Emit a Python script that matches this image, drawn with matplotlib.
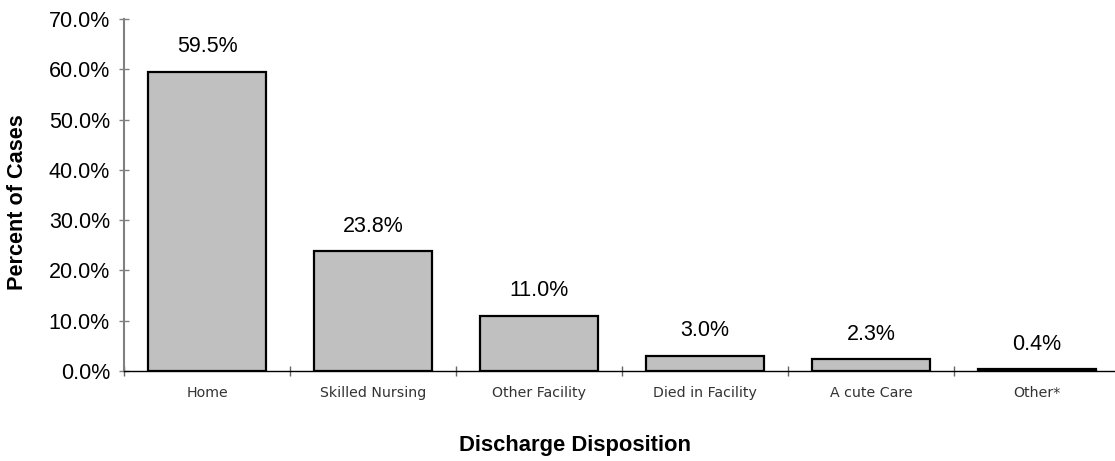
import matplotlib
matplotlib.use("Agg")
import matplotlib.pyplot as plt
from matplotlib.ticker import FuncFormatter, MultipleLocator, FixedLocator

categories = ["Home", "Skilled Nursing", "Other Facility", "Died in Facility", "A cute Care", "Other*"]
values = [59.5, 23.8, 11.0, 3.0, 2.3, 0.4]
value_labels = ["59.5%", "23.8%", "11.0%", "3.0%", "2.3%", "0.4%"]

plt.rcParams['font.family'] = ['Liberation Sans', 'DejaVu Sans']

W, H = 1115, 461
fig = plt.figure(figsize=(W / 100, H / 100), dpi=100)
left, right, top, bottom = 124, 1120, 19, 371
ax = fig.add_axes([left / W, 1 - bottom / H, (right - left) / W, (bottom - top) / H])

n = len(categories)
x = list(range(n))
ax.bar(x, values, width=0.71, color="#C0C0C0", edgecolor="black", linewidth=1.6, zorder=3)

for xi, v, lab in zip(x, values, value_labels):
    ax.annotate(lab, (xi, v), xytext=(0, 14.0), textcoords="offset points",
                ha="center", va="baseline", fontsize=15.5, color="black")

ax.set_xlim(-0.5, n - 0.5)
ax.set_ylim(0, 70)
ax.yaxis.set_major_locator(MultipleLocator(10))
ax.yaxis.set_major_formatter(FuncFormatter(lambda v, p: f"{v:.1f}%"))
ax.tick_params(axis="y", direction="inout", length=7.2, width=1, color="#808080",
               pad=6.5, labelsize=15.5, labelcolor="black")

ax.set_xticks(x)
ax.set_xticklabels(categories, family=["DejaVu Sans"], fontsize=10.2, color="#333333")
ax.tick_params(axis="x", which="major", length=0, pad=11)
ax.xaxis.set_minor_locator(FixedLocator([i - 0.5 for i in range(n + 1)]))
ax.tick_params(axis="x", which="minor", direction="inout", length=7, width=1, color="#666666")

for s in ["top", "right"]:
    ax.spines[s].set_visible(False)
ax.spines["left"].set_color("#808080")
ax.spines["left"].set_linewidth(1.5)
ax.spines["bottom"].set_color("black")
ax.spines["bottom"].set_linewidth(1.0)

fig.text(18 / W, 1 - 202 / H, "Percent of Cases", rotation=90, ha="center", va="center",
         fontsize=15.6, fontweight="bold")
fig.text(575 / W, 1 - 445 / H, "Discharge Disposition", ha="center", va="center",
         fontsize=15.8, fontweight="bold")

fig.savefig("out.png", dpi=100)
